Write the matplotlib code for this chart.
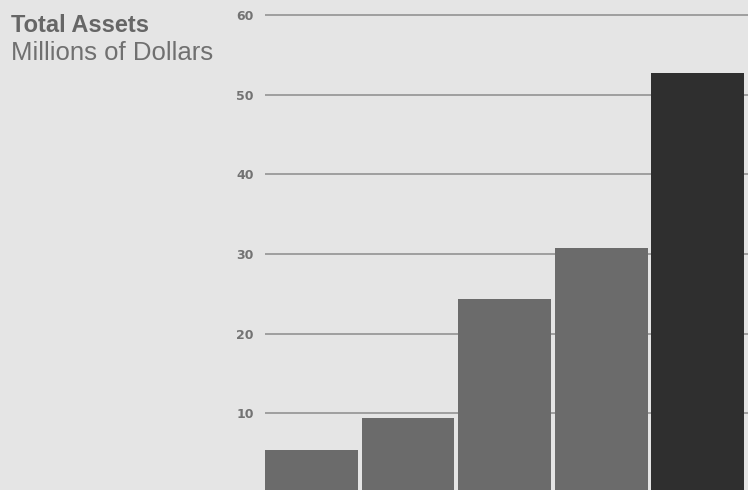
import matplotlib.pyplot as plt

years = ['1', '2', '3', '4', '5']
assets = [5.4, 9.4, 24.3, 30.7, 52.7]
bar_colors = ['#6b6b6b', '#6b6b6b', '#6b6b6b', '#6b6b6b', '#2f2f2f']
ticks = [10, 20, 30, 40, 50, 60]

bg = '#e5e5e5'
fig = plt.figure(figsize=(7.48, 4.9), dpi=100)
fig.patch.set_facecolor(bg)

ax = fig.add_axes([265 / 748, 0, 483 / 748, 1])
ax.set_facecolor(bg)

for t in ticks:
    ax.axhline(t, color='#8c8c8c', lw=1.1, zorder=1)

x = list(range(len(assets)))
ax.bar(x, assets, width=0.96, color=bar_colors, zorder=2)

ax.set_xlim(-0.48, 4.52)
ax.set_ylim(0.38, 61.86)
ax.set_xticks([])
ax.set_yticks(ticks)
ax.set_yticklabels([str(t) for t in ticks], color='#737373', fontsize=9,
                   fontweight='semibold', family='DejaVu Sans')
ax.tick_params(axis='y', length=0, pad=8)
for s in ax.spines.values():
    s.set_visible(False)

fig.text(11 / 748, 1 - 26 / 490, 'Total Assets', fontsize=17, fontweight='bold',
         color='#666666', va='center', ha='left', family='Liberation Sans')
fig.text(11 / 748, 1 - 53 / 490, 'Millions of Dollars', fontsize=18.5,
         color='#707070', va='center', ha='left', family='Liberation Sans')

fig.savefig('out.png', dpi=100, facecolor=bg)
